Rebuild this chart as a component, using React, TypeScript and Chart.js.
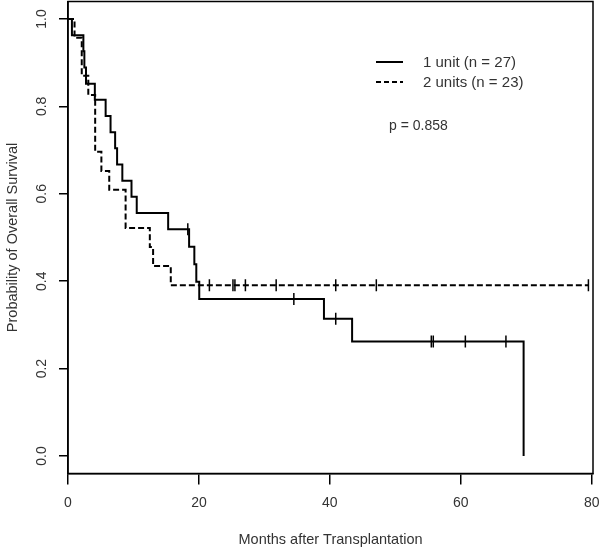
import React, { useEffect, useRef } from 'react';
import { Chart, registerables } from 'chart.js';

Chart.register(...registerables);

// ---- Data ----
const xTicks = [0, 20, 40, 60, 80];
const yTicks = [0, 0.2, 0.4, 0.6, 0.8, 1.0];

const seriesLabels = ['1 unit (n = 27)', '2 units (n = 23)'];
const pValueLabel = 'p = 0.858';
const xTitle = 'Months after Transplantation';
const yTitle = 'Probability of Overall Survival';

// 1 unit (solid) Kaplan-Meier steps
const oneUnitTimes = [0, 0.6, 2.35, 2.5, 2.75, 4.1, 5.75, 6.5, 7.2, 7.5, 8.3, 9.7, 10.5, 15.3, 18.5, 19.3, 19.6, 20.05, 39.1, 43.4, 69.6];
const oneUnitSurv = [1, 0.963, 0.926, 0.889, 0.852, 0.815, 0.778, 0.741, 0.704, 0.667, 0.63, 0.593, 0.556, 0.519, 0.479, 0.439, 0.399, 0.359, 0.314, 0.262, 0];
const oneUnitCensorTimes = [18.3, 34.5, 40.9, 55.5, 55.8, 60.7, 66.9];
const oneUnitCensorSurv = [0.519, 0.359, 0.314, 0.262, 0.262, 0.262, 0.262];

// 2 units (dashed) Kaplan-Meier steps
const twoUnitTimes = [0, 1.0, 2.1, 3.1, 4.15, 5.1, 6.3, 8.8, 12.5, 13.0, 15.7, 79.5];
const twoUnitSurv = [1, 0.957, 0.87, 0.826, 0.696, 0.652, 0.609, 0.522, 0.478, 0.435, 0.391, 0.391];
const twoUnitCensorTimes = [21.6, 25.2, 25.5, 27.1, 31.8, 40.9, 47.1, 79.5];
const twoUnitCensorSurv = [0.391, 0.391, 0.391, 0.391, 0.391, 0.391, 0.391, 0.391];

const FONT = '"Liberation Sans", Arial, Helvetica, sans-serif';
const TEXT = '#333';

const toPoints = (xs: number[], ys: number[]) => xs.map((x, i) => ({ x, y: ys[i] }));

const zeroPadding = (s: any) => {
  s.paddingTop = 0;
  s.paddingBottom = 0;
  s.paddingLeft = 0;
  s.paddingRight = 0;
};

const boxAndLegend = {
  id: 'boxAndLegend',
  afterDraw(chart: any) {
    const { ctx, chartArea } = chart;
    ctx.save();
    ctx.strokeStyle = '#000';
    ctx.lineWidth = 1.5;
    ctx.strokeRect(chartArea.left, chartArea.top, chartArea.right - chartArea.left, chartArea.bottom - chartArea.top);

    // legend
    const lx0 = 376, lx1 = 403, tx = 423;
    const rows = [62, 82];
    ctx.lineWidth = 2;
    rows.forEach((y, i) => {
      ctx.beginPath();
      ctx.setLineDash(i === 0 ? [] : [5, 3]);
      ctx.moveTo(lx0, y);
      ctx.lineTo(lx1, y);
      ctx.stroke();
    });
    ctx.setLineDash([]);
    ctx.fillStyle = TEXT;
    ctx.font = `15px ${FONT}`;
    ctx.textBaseline = 'middle';
    ctx.textAlign = 'left';
    rows.forEach((y, i) => ctx.fillText(seriesLabels[i], tx, y + 1));
    ctx.font = `14px ${FONT}`;
    ctx.fillText(pValueLabel, 389, 126);
    ctx.restore();
  },
};

export default function App() {
  const ref = useRef<HTMLCanvasElement | null>(null);

  useEffect(() => {
    if (!ref.current) return;
    Chart.defaults.font.family = FONT;
    const chart = new Chart(ref.current, {
      type: 'line',
      data: {
        datasets: [
          {
            label: seriesLabels[0],
            data: toPoints(oneUnitTimes, oneUnitSurv),
            stepped: 'before',
            borderColor: '#000',
            borderWidth: 2,
            pointRadius: 0,
            fill: false,
          },
          {
            label: seriesLabels[1],
            data: toPoints(twoUnitTimes, twoUnitSurv),
            stepped: 'before',
            borderColor: '#000',
            borderWidth: 2,
            borderDash: [6, 3],
            pointRadius: 0,
            fill: false,
          },
          {
            type: 'scatter',
            label: 'censor1',
            data: toPoints(oneUnitCensorTimes, oneUnitCensorSurv),
            showLine: false,
            pointStyle: 'line',
            rotation: 90,
            pointRadius: 6,
            borderColor: '#000',
            borderWidth: 1.5,
          } as any,
          {
            type: 'scatter',
            label: 'censor2',
            data: toPoints(twoUnitCensorTimes, twoUnitCensorSurv),
            showLine: false,
            pointStyle: 'line',
            rotation: 90,
            pointRadius: 6,
            borderColor: '#000',
            borderWidth: 1.5,
          } as any,
        ],
      },
      options: {
        animation: false,
        responsive: false,
        layout: { autoPadding: false, padding: { left: 0, right: 7, top: 1.5, bottom: 0 } },
        plugins: { legend: { display: false }, tooltip: { enabled: false } },
        scales: {
          x: {
            type: 'linear',
            min: 0,
            max: 80.2,
            afterBuildTicks: (s: any) => { s.ticks = xTicks.map((v) => ({ value: v })); },
            afterFit: (s: any) => { s.height = 76.5; zeroPadding(s); },
            grid: { drawOnChartArea: false, drawTicks: true, tickLength: 11, color: '#000', lineWidth: 1.5 },
            border: { display: true, color: '#000', width: 1.5 },
            ticks: { color: TEXT, font: { size: 14, family: FONT }, padding: 10, maxRotation: 0, callback: (v: any) => String(v) },
            title: { display: true, text: xTitle, color: TEXT, font: { size: 14.5, family: FONT }, padding: { top: 0, bottom: 1 } },
          },
          y: {
            type: 'linear',
            min: -0.04,
            max: 1.04,
            afterBuildTicks: (s: any) => { s.ticks = yTicks.map((v) => ({ value: v })); },
            afterFit: (s: any) => { s.width = 68; zeroPadding(s); },
            grid: { drawOnChartArea: false, drawTicks: true, tickLength: 9, color: '#000', lineWidth: 1.5 },
            border: { display: true, color: '#000', width: 1.5 },
            ticks: {
              color: TEXT,
              font: { size: 14, family: FONT },
              padding: 6.75,
              minRotation: 90,
              maxRotation: 90,
              crossAlign: 'center',
              callback: (v: any) => Number(v).toFixed(1),
            },
            title: { display: true, text: yTitle, color: TEXT, font: { size: 14.5, family: FONT }, padding: { top: 4, bottom: 0 } },
          },
        },
      },
      plugins: [boxAndLegend],
    } as any);
    return () => chart.destroy();
  }, []);

  return (
    <div style={{ position: 'absolute', left: 0, top: 0, width: 600, height: 550, background: '#fff' }}>
      <canvas ref={ref} width={600} height={550} style={{ display: 'block' }} />
    </div>
  );
}
